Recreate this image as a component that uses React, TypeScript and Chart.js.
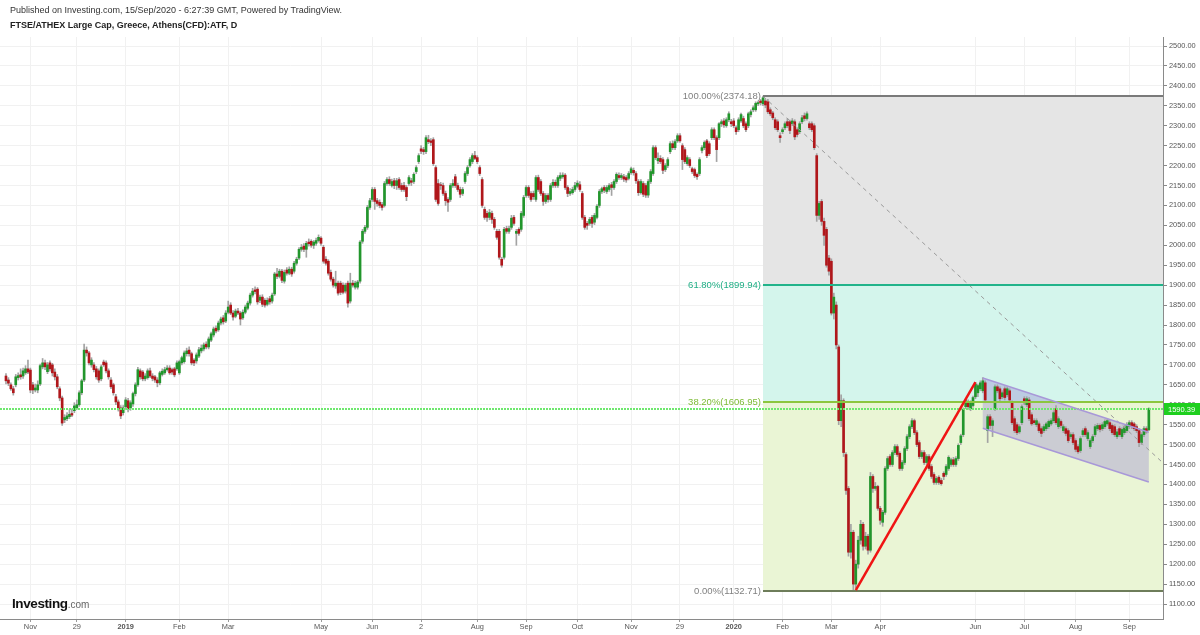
import React, { useEffect, useRef } from 'react';
import { Chart, registerables } from 'chart.js';
Chart.register(...registerables);

type Candle = [number, number, number, number]; // open, high, low, close

// Daily candles (trading-day index order), Oct 2018 – Sep 2020
const candlesQ4_2018: Candle[] = [
  [1672,1678,1652,1660],[1662,1668,1648,1654],[1650,1655,1636,1640],[1640,1646,1624,1630],[1650,1676,1645,1670],
  [1668,1680,1662,1673],[1675,1690,1664,1670],[1672,1692,1666,1685],[1680,1698,1676,1690],[1690,1712,1678,1682],
  [1687,1692,1630,1637],[1650,1656,1628,1637],[1637,1652,1632,1642],[1637,1660,1630,1650],[1652,1702,1648,1698],
  [1695,1716,1690,1705],[1705,1712,1688,1695],[1683,1706,1678,1700],[1705,1710,1684,1690],[1700,1704,1672,1680],
  [1682,1690,1662,1670],[1670,1676,1640,1645],[1640,1645,1610,1617],[1617,1622,1548,1554],[1562,1575,1555,1568],
  [1565,1580,1560,1572],[1570,1588,1565,1576],[1578,1590,1570,1574],[1585,1605,1580,1597],[1592,1612,1588,1600],
  [1600,1635,1596,1630],[1630,1664,1625,1660],[1662,1752,1658,1737],[1737,1745,1722,1730],[1730,1734,1700,1705],
  [1700,1718,1694,1712],[1700,1706,1682,1688],[1690,1696,1664,1670],[1685,1690,1656,1662],[1665,1700,1660,1695],
];
const candlesQ1_2019: Candle[] = [
  [1707,1712,1696,1700],[1705,1710,1680,1685],[1685,1690,1664,1670],[1662,1668,1640,1645],[1650,1654,1624,1630],
  [1620,1626,1600,1607],[1607,1612,1584,1590],[1592,1598,1565,1572],[1580,1598,1574,1592],[1595,1618,1588,1612],
  [1610,1616,1582,1590],[1592,1610,1586,1605],[1602,1632,1596,1628],[1628,1655,1622,1650],[1650,1694,1646,1688],
  [1685,1690,1664,1670],[1682,1686,1660,1665],[1665,1678,1660,1672],[1668,1690,1664,1685],[1685,1692,1668,1672],
  [1672,1678,1660,1666],[1670,1674,1656,1662],[1662,1668,1645,1655],[1655,1684,1650,1680],[1676,1690,1672,1684],
  [1680,1694,1676,1688],[1688,1698,1684,1692],[1692,1698,1676,1680],[1688,1692,1676,1682],[1690,1694,1670,1675],
  [1690,1710,1686,1705],[1680,1712,1676,1708],[1705,1722,1700,1718],[1708,1735,1704,1730],[1728,1742,1722,1735],
  [1737,1745,1722,1728],[1728,1732,1700,1705],[1712,1716,1698,1705],[1710,1730,1704,1725],[1722,1744,1718,1738],
  [1735,1750,1730,1742],[1740,1755,1735,1750],[1752,1758,1740,1745],[1745,1770,1740,1765],[1762,1782,1758,1778],
  [1775,1795,1770,1790],[1792,1798,1780,1785],[1788,1810,1784,1805],[1805,1820,1800,1815],[1818,1824,1802,1808],
  [1810,1836,1806,1830],[1832,1860,1828,1845],[1850,1856,1826,1830],[1830,1836,1812,1820],[1822,1840,1818,1835],
  [1835,1842,1826,1830],[1830,1834,1800,1815],[1818,1838,1814,1832],[1832,1850,1828,1845],[1842,1860,1838,1855],
];
const candlesQ2_2019: Candle[] = [
  [1855,1880,1850,1875],[1875,1892,1870,1885],[1888,1896,1878,1884],[1890,1894,1852,1858],[1862,1875,1856,1870],
  [1870,1876,1846,1852],[1862,1866,1845,1850],[1852,1868,1848,1862],[1866,1872,1852,1858],[1860,1880,1855,1875],
  [1878,1932,1874,1928],[1928,1942,1916,1922],[1922,1940,1918,1935],[1935,1940,1906,1912],[1910,1938,1905,1932],
  [1938,1944,1925,1930],[1930,1946,1926,1940],[1940,1945,1922,1928],[1935,1960,1930,1955],[1955,1970,1950,1965],
  [1968,1994,1964,1990],[1990,2002,1985,1995],[1998,2004,1984,1990],[1990,2010,1970,2005],[2008,2016,1998,2004],
  [2010,2014,1995,2000],[2000,2012,1992,2008],[2005,2018,2000,2012],[2012,2026,2008,2020],[2018,2022,2000,2005],
  [1995,2000,1955,1960],[1965,1972,1950,1955],[1960,1964,1925,1930],[1932,1938,1910,1915],[1915,1920,1895,1900],
  [1898,1935,1892,1905],[1905,1910,1875,1880],[1905,1910,1876,1882],[1900,1906,1878,1882],[1885,1905,1880,1900],
  [1905,1910,1845,1855],[1860,1930,1855,1905],[1905,1912,1895,1900],[1895,1910,1890,1905],[1895,1912,1890,1908],
  [1910,2012,1905,2008],[2010,2040,2005,2035],[2035,2050,2030,2045],[2045,2100,2040,2095],[2095,2118,2090,2112],
  [2115,2145,2110,2140],[2140,2145,2090,2110],[2112,2118,2098,2105],[2108,2114,2094,2100],[2102,2108,2088,2095],
  [2100,2160,2096,2155],[2155,2170,2150,2165],[2165,2172,2150,2155],[2150,2166,2146,2160],[2162,2168,2142,2150],
  [2150,2168,2140,2162],[2165,2170,2140,2145],[2150,2156,2135,2140],
];
const candlesQ3_2019: Candle[] = [
  [2150,2158,2135,2140],[2145,2150,2112,2122],[2155,2175,2150,2170],[2162,2168,2150,2158],[2160,2182,2155,2178],
  [2185,2200,2180,2195],[2210,2230,2205,2225],[2242,2250,2230,2236],[2240,2246,2228,2235],[2235,2275,2230,2270],
  [2265,2276,2255,2260],[2262,2268,2250,2258],[2265,2270,2200,2205],[2195,2200,2110,2115],[2155,2165,2100,2105],
  [2152,2158,2140,2150],[2150,2156,2125,2130],[2130,2136,2100,2112],[2115,2120,2085,2108],[2115,2155,2110,2150],
  [2150,2165,2145,2155],[2172,2178,2145,2150],[2150,2156,2135,2140],[2140,2146,2120,2128],[2130,2145,2125,2140],
  [2160,2185,2155,2180],[2180,2200,2175,2195],[2200,2220,2196,2215],[2210,2230,2205,2225],[2225,2236,2215,2218],
  [2220,2225,2205,2210],[2195,2200,2175,2180],[2165,2170,2095,2100],[2090,2096,2065,2070],[2080,2086,2060,2070],
  [2070,2090,2064,2082],[2080,2086,2055,2065],[2065,2070,2040,2045],[2035,2040,2015,2020],[2035,2040,1965,1970],
  [1965,1970,1945,1950],[1970,2045,1965,2040],[2042,2048,2030,2035],[2035,2048,2030,2042],[2045,2075,2040,2068],
  [2070,2075,2050,2055],[2030,2040,2000,2035],[2040,2044,2025,2030],[2040,2085,2035,2080],[2075,2125,2070,2120],
  [2125,2150,2120,2145],[2145,2150,2120,2125],[2130,2135,2110,2115],[2130,2136,2115,2122],[2115,2175,2110,2170],
  [2170,2176,2135,2140],[2160,2165,2125,2130],[2130,2135,2100,2110],[2110,2130,2105,2125],[2125,2130,2108,2115],
  [2115,2155,2110,2150],[2150,2165,2145,2158],[2158,2164,2145,2150],[2150,2175,2145,2170],[2168,2182,2162,2175],
];
const candlesQ4_2019: Candle[] = [
  [2172,2182,2168,2176],[2176,2180,2140,2145],[2145,2150,2122,2130],[2130,2142,2125,2135],[2132,2146,2128,2140],
  [2140,2158,2135,2150],[2148,2162,2144,2156],[2152,2160,2135,2140],[2130,2135,2065,2070],[2070,2075,2040,2045],
  [2055,2060,2040,2050],[2055,2070,2050,2065],[2070,2075,2045,2055],[2058,2080,2052,2075],[2070,2102,2066,2098],
  [2100,2140,2095,2135],[2135,2146,2130,2142],[2145,2150,2132,2138],[2135,2150,2130,2145],[2140,2155,2135,2150],
  [2152,2158,2125,2145],[2145,2165,2140,2160],[2160,2182,2155,2178],[2175,2182,2165,2170],[2170,2180,2165,2175],
  [2172,2178,2160,2166],[2170,2175,2158,2164],[2168,2185,2164,2180],[2182,2196,2178,2192],[2188,2194,2176,2182],
  [2180,2185,2155,2162],[2160,2165,2125,2132],[2132,2165,2128,2160],[2155,2160,2122,2128],[2150,2155,2120,2126],
  [2126,2165,2120,2160],[2160,2190,2155,2185],[2180,2250,2175,2245],[2245,2250,2215,2220],[2212,2232,2205,2218],
  [2218,2225,2205,2210],[2215,2220,2180,2188],[2190,2205,2185,2200],[2200,2220,2195,2215],[2235,2260,2230,2255],
  [2255,2262,2240,2245],[2245,2265,2240,2260],[2262,2280,2258,2275],[2275,2280,2258,2262],[2250,2255,2190,2215],
  [2240,2245,2205,2210],[2205,2225,2200,2220],[2215,2220,2195,2200],[2192,2196,2180,2185],[2190,2194,2170,2175],
  [2178,2182,2165,2172],[2180,2220,2175,2215],[2238,2250,2232,2245],[2245,2262,2240,2258],[2262,2266,2220,2225],
  [2255,2260,2225,2230],[2270,2295,2265,2290],[2290,2295,2265,2270],[2270,2275,2210,2240],[2270,2308,2265,2305],
];
const candlesQ1_2020: Candle[] = [
  [2305,2315,2298,2310],[2312,2318,2296,2302],[2300,2320,2296,2315],[2315,2335,2310,2330],[2310,2316,2298,2305],
  [2312,2318,2295,2300],[2295,2300,2278,2285],[2290,2320,2285,2315],[2312,2332,2308,2328],[2318,2324,2295,2300],
  [2305,2310,2285,2290],[2300,2334,2295,2330],[2328,2340,2322,2335],[2340,2350,2335,2345],[2340,2360,2336,2356],
  [2355,2362,2350,2358],[2362,2366,2352,2358],[2355,2374.18,2350,2370],[2362,2366,2345,2352],[2360,2366,2330,2335],
  [2340,2345,2325,2330],[2332,2336,2315,2320],[2315,2320,2290,2295],[2310,2315,2285,2290],[2275,2282,2258,2270],
  [2285,2295,2280,2290],[2295,2310,2290,2305],[2310,2318,2295,2300],[2310,2314,2280,2288],[2305,2318,2300,2312],
  [2310,2315,2265,2272],[2290,2295,2272,2278],[2285,2310,2280,2305],[2310,2326,2305,2320],[2325,2332,2312,2318],
  [2318,2335,2314,2330],[2305,2310,2290,2295],[2305,2310,2285,2290],[2300,2305,2240,2245],[2225,2230,2060,2075],
  [2075,2110,2065,2105],[2110,2115,2050,2060],[2060,2068,2000,2025],[2040,2045,1945,1950],[1968,1975,1925,1935],
  [1960,1966,1825,1830],[1830,1880,1815,1870],[1850,1858,1740,1750],[1745,1750,1550,1560],[1560,1625,1545,1610],
  [1610,1615,1470,1480],[1475,1480,1375,1385],[1390,1395,1220,1230],[1230,1300,1215,1280],[1280,1285,1132.71,1150],
  [1150,1210,1140,1200],[1200,1270,1190,1260],[1260,1310,1250,1300],[1300,1305,1235,1245],[1245,1280,1238,1270],
  [1270,1275,1225,1235],
];
const candlesQ2_2020: Candle[] = [
  [1235,1430,1230,1420],[1420,1425,1380,1390],[1390,1405,1385,1395],[1395,1398,1335,1340],[1340,1345,1300,1310],
  [1305,1335,1295,1330],[1330,1445,1325,1440],[1440,1470,1435,1465],[1470,1475,1445,1450],[1450,1485,1445,1480],
  [1480,1500,1475,1495],[1495,1500,1470,1475],[1478,1482,1435,1440],[1440,1460,1435,1455],[1455,1495,1450,1490],
  [1490,1525,1485,1520],[1520,1550,1515,1545],[1545,1565,1540,1560],[1560,1564,1525,1530],[1530,1535,1495,1500],
  [1505,1510,1465,1470],[1470,1485,1465,1480],[1480,1485,1450,1455],[1455,1475,1450,1470],[1470,1475,1435,1440],
  [1445,1450,1415,1420],[1425,1430,1400,1405],[1405,1420,1400,1415],[1418,1422,1400,1405],[1410,1415,1398,1402],
  [1428,1432,1412,1420],[1425,1450,1420,1445],[1440,1472,1435,1468],[1450,1466,1445,1462],[1462,1468,1445,1450],
  [1450,1470,1445,1465],[1465,1502,1460,1498],[1505,1526,1500,1522],[1525,1592,1520,1588],[1595,1615,1590,1610],
  [1608,1612,1588,1595],[1590,1610,1585,1605],[1598,1622,1594,1618],[1620,1656,1615,1652],[1630,1652,1620,1648],
  [1640,1660,1635,1655],[1635,1668,1630,1660],[1655,1660,1605,1612],[1535,1575,1505,1570],[1570,1575,1540,1548],
  [1548,1565,1520,1560],[1590,1650,1585,1645],[1645,1650,1630,1635],[1640,1645,1610,1615],[1620,1635,1615,1630],
  [1640,1645,1612,1618],[1625,1645,1620,1640],[1635,1640,1605,1612],[1605,1610,1550,1555],[1565,1570,1530,1535],
  [1550,1555,1525,1530],
];
const candlesQ3_2020: Candle[] = [
  [1532,1550,1528,1545],[1555,1600,1550,1595],[1615,1620,1600,1605],[1600,1620,1595,1615],[1612,1618,1560,1565],
  [1575,1580,1548,1552],[1560,1565,1550,1555],[1550,1565,1545,1560],[1552,1557,1530,1535],[1540,1545,1520,1528],
  [1535,1550,1530,1545],[1540,1556,1535,1552],[1545,1562,1540,1558],[1552,1565,1548,1560],[1560,1585,1555,1580],
  [1590,1598,1550,1555],[1545,1570,1540,1565],[1558,1562,1542,1548],[1535,1550,1530,1545],[1540,1545,1522,1528],
  [1535,1540,1505,1510],[1520,1530,1515,1525],[1525,1530,1500,1505],[1510,1515,1482,1488],[1495,1500,1478,1482],
  [1485,1520,1480,1515],[1525,1540,1520,1535],[1540,1545,1520,1525],[1515,1535,1510,1530],[1495,1515,1490,1510],
  [1510,1525,1505,1520],[1525,1550,1520,1545],[1540,1553,1535,1548],[1548,1552,1532,1538],[1540,1555,1535,1550],
  [1545,1562,1540,1558],[1552,1565,1548,1560],[1555,1560,1535,1540],[1548,1552,1525,1530],[1545,1550,1520,1525],
  [1520,1538,1515,1532],[1540,1545,1520,1525],[1520,1542,1515,1538],[1530,1548,1525,1542],[1535,1555,1530,1550],
  [1545,1560,1540,1555],[1555,1560,1540,1545],[1552,1556,1535,1540],[1545,1550,1530,1535],[1535,1540,1495,1505],
  [1505,1530,1500,1525],[1525,1545,1520,1540],[1540,1545,1528,1532],[1537,1592,1535,1590.39],
];

// X axis tick labels (trading-day index of each label)
const xTickIndex = [10, 29, 49, 71, 91, 129, 150, 170, 193, 213, 234, 256, 276, 298, 318, 338, 358, 397, 417, 438, 460];
const xTickLabels = ['Nov', '29', '2019', 'Feb', 'Mar', 'May', 'Jun', '2', 'Aug', 'Sep', 'Oct', 'Nov', '29', '2020', 'Feb', 'Mar', 'Apr', 'Jun', 'Jul', 'Aug', 'Sep'];
const xBoldLabels = ['2019', '2020'];
const yTickValues = [1100, 1150, 1200, 1250, 1300, 1350, 1400, 1450, 1500, 1550, 1600, 1650, 1700, 1750, 1800, 1850, 1900, 1950, 2000, 2050, 2100, 2150, 2200, 2250, 2300, 2350, 2400, 2450, 2500];

// Drawings
const fibStartIndex = 310;
const fibHigh = 2374.18;
const fibTrendEnd = [531, 1132.71];
const fibLevelValues = [2374.18, 1899.94, 1606.95, 1132.71];
const fibLevelLabels = ['100.00%(2374.18)', '61.80%(1899.94)', '38.20%(1606.95)', '0.00%(1132.71)'];
const redTrend = [[348, 1135], [397, 1657]];
const channelUpper = [[400, 1667], [468, 1531]];
const channelLower = [[400, 1541], [468, 1406]];
const lastPrice = 1590.39;

const GREEN = '#22962c';
const RED = '#b0171b';
const FONT = 'Arial, "Liberation Sans", sans-serif';

export default function App() {
  const ref = useRef<HTMLCanvasElement | null>(null);

  useEffect(() => {
    document.body.style.margin = '0';
    const candles: Candle[] = [
      ...candlesQ4_2018, ...candlesQ1_2019, ...candlesQ2_2019, ...candlesQ3_2019,
      ...candlesQ4_2019, ...candlesQ1_2020, ...candlesQ2_2020, ...candlesQ3_2020,
    ];
    const wickData = candles.map((c, i) => ({ x: i, y: [c[2], c[1]] }));
    const bodyData = candles.map((c, i) => ({ x: i, y: [Math.min(c[0], c[3]), Math.max(c[0], c[3]) + (c[0] === c[3] ? 0.5 : 0)] }));
    const bodyColors = candles.map((c) => (c[3] >= c[0] ? GREEN : RED));

    const overlay = {
      id: 'overlay',
      beforeDatasetsDraw(chart: any) {
        const { ctx, chartArea: a, scales } = chart;
        const x = scales.x, y = scales.y;
        ctx.save();
        ctx.beginPath();
        ctx.rect(a.left, a.top, a.right - a.left, a.bottom - a.top);
        ctx.clip();
        const xs = x.getPixelForValue(fibStartIndex);
        const zoneColors = ['#e5e5e5', '#d4f5ec', '#eaf5d5'];
        for (let k = 0; k < 3; k++) {
          const y1 = y.getPixelForValue(fibLevelValues[k]);
          const y2 = y.getPixelForValue(fibLevelValues[k + 1]);
          ctx.fillStyle = zoneColors[k];
          ctx.fillRect(xs, y1, a.right - xs, y2 - y1);
        }
        // channel fill
        ctx.beginPath();
        ctx.moveTo(x.getPixelForValue(channelUpper[0][0]), y.getPixelForValue(channelUpper[0][1]));
        ctx.lineTo(x.getPixelForValue(channelUpper[1][0]), y.getPixelForValue(channelUpper[1][1]));
        ctx.lineTo(x.getPixelForValue(channelLower[1][0]), y.getPixelForValue(channelLower[1][1]));
        ctx.lineTo(x.getPixelForValue(channelLower[0][0]), y.getPixelForValue(channelLower[0][1]));
        ctx.closePath();
        ctx.fillStyle = 'rgba(140,120,205,0.33)';
        ctx.fill();
        ctx.restore();
      },
      afterDatasetsDraw(chart: any) {
        const { ctx, chartArea: a, scales } = chart;
        const x = scales.x, y = scales.y;
        ctx.save();
        ctx.beginPath();
        ctx.rect(a.left, a.top, a.right - a.left, a.bottom - a.top);
        ctx.clip();
        const xs = x.getPixelForValue(fibStartIndex);
        // dashed fib trend line
        ctx.beginPath();
        ctx.setLineDash([4, 4]);
        ctx.strokeStyle = '#9a9a9a';
        ctx.lineWidth = 1;
        ctx.moveTo(xs, y.getPixelForValue(fibHigh));
        ctx.lineTo(x.getPixelForValue(fibTrendEnd[0]), y.getPixelForValue(fibTrendEnd[1]));
        ctx.stroke();
        ctx.setLineDash([]);
        // last price dotted line
        const lp = Math.round(y.getPixelForValue(lastPrice));
        ctx.fillStyle = '#6fe86f';
        for (let px = Math.floor(a.left); px < a.right; px += 3) {
          ctx.fillRect(px, lp - 1, 2, 2);
        }
        // level lines
        const lineColors = ['#7a7a7a', '#22b38a', '#8cc63f', '#6e7d5a'];
        const textColors = ['#808080', '#1fae85', '#7dbb35', '#808080'];
        ctx.font = '9.5px ' + FONT;
        ctx.textAlign = 'right';
        ctx.textBaseline = 'middle';
        fibLevelValues.forEach((v, k) => {
          const py = Math.round(y.getPixelForValue(v));
          ctx.fillStyle = lineColors[k];
          ctx.fillRect(xs, py - 1, a.right - xs, 2);
          ctx.fillStyle = textColors[k];
          ctx.fillText(fibLevelLabels[k], xs - 2, py);
        });
        // channel borders
        ctx.strokeStyle = '#a898d8';
        ctx.lineWidth = 1.5;
        [channelUpper, channelLower].forEach((ln) => {
          ctx.beginPath();
          ctx.moveTo(x.getPixelForValue(ln[0][0]), y.getPixelForValue(ln[0][1]));
          ctx.lineTo(x.getPixelForValue(ln[1][0]), y.getPixelForValue(ln[1][1]));
          ctx.stroke();
        });
        // red trend line
        ctx.beginPath();
        ctx.strokeStyle = '#f01414';
        ctx.lineWidth = 2.5;
        ctx.moveTo(x.getPixelForValue(redTrend[0][0]), y.getPixelForValue(redTrend[0][1]));
        ctx.lineTo(x.getPixelForValue(redTrend[1][0]), y.getPixelForValue(redTrend[1][1]));
        ctx.stroke();
        ctx.restore();
      },
      afterDraw(chart: any) {
        const { ctx, chartArea: a, scales } = chart;
        const y = scales.y;
        const lp = Math.round(y.getPixelForValue(lastPrice));
        ctx.save();
        ctx.fillStyle = '#1ecf1e';
        ctx.fillRect(a.right + 1, lp - 6, 1200 - a.right - 1, 12);
        ctx.fillStyle = '#ffffff';
        ctx.font = '7.5px ' + FONT;
        ctx.textAlign = 'left';
        ctx.textBaseline = 'middle';
        ctx.fillText(lastPrice.toFixed(2), a.right + 5, lp + 0.5);
        ctx.restore();
      },
    };

    const chart = new Chart(ref.current as HTMLCanvasElement, {
      type: 'bar',
      data: {
        datasets: [
          {
            data: bodyData as any,
            backgroundColor: bodyColors,
            barThickness: 2,
            grouped: false,
            order: 0,
            borderWidth: 0,
          } as any,
          {
            data: wickData as any,
            backgroundColor: '#a3a3a3',
            barThickness: 1,
            grouped: false,
            order: 1,
            borderWidth: 0,
          } as any,
        ],
      },
      options: {
        responsive: false,
        animation: false,
        events: [],
        layout: { padding: { top: 37, left: 0, right: 0, bottom: 0 } },
        plugins: { legend: { display: false }, tooltip: { enabled: false }, title: { display: false } },
        scales: {
          x: {
            type: 'linear',
            min: -2.45,
            max: 473.8,
            offset: false,
            grid: { offset: false, color: '#f1f1f1', tickLength: 3, tickColor: '#9a9a9a' },
            border: { color: '#8a8a8a' },
            afterBuildTicks: (s: any) => { s.ticks = xTickIndex.map((v) => ({ value: v })); },
            afterFit: (s: any) => { s.height = 16; },
            ticks: {
              autoSkip: false,
              maxRotation: 0,
              padding: 1,
              color: '#555555',
              font: (c: any) => {
                const i = xTickIndex.indexOf(c.tick ? c.tick.value : -1);
                const bold = i >= 0 && xBoldLabels.includes(xTickLabels[i]);
                return { family: FONT, size: 7.4, weight: bold ? 'bold' : 'normal' } as any;
              },
              callback: (v: any) => {
                const i = xTickIndex.indexOf(Number(v));
                return i >= 0 ? xTickLabels[i] : '';
              },
            },
          } as any,
          y: {
            type: 'linear',
            position: 'right',
            min: 1062.4,
            max: 2522.6,
            grid: { color: '#f1f1f1', tickLength: 4, tickColor: '#8a8a8a' },
            border: { color: '#8a8a8a' },
            afterBuildTicks: (s: any) => { s.ticks = yTickValues.map((v) => ({ value: v })); },
            afterFit: (s: any) => { s.width = 37; },
            ticks: {
              padding: 2,
              color: '#555555',
              font: { family: FONT, size: 7.4 },
              callback: (v: any) => Number(v).toFixed(2),
            },
          } as any,
        },
      },
      plugins: [overlay],
    });
    return () => chart.destroy();
  }, []);

  return (
    <div style={{ position: 'relative', width: 1200, height: 635, background: '#ffffff', fontFamily: FONT, overflow: 'hidden' }}>
      <canvas ref={ref} width={1200} height={635} style={{ position: 'absolute', left: 0, top: 0 }} />
      <div style={{ position: 'absolute', left: 10, top: 5, fontSize: 9, color: '#333', whiteSpace: 'nowrap' }}>
        Published on Investing.com, 15/Sep/2020 - 6:27:39 GMT, Powered by TradingView.
      </div>
      <div style={{ position: 'absolute', left: 10, top: 20, fontSize: 9, fontWeight: 'bold', color: '#222', whiteSpace: 'nowrap' }}>
        FTSE/ATHEX Large Cap, Greece, Athens(CFD):ATF, D
      </div>
      <div style={{ position: 'absolute', left: 12, top: 595, whiteSpace: 'nowrap', lineHeight: '16px' }}>
        <span style={{ fontSize: 13.5, fontWeight: 'bold', color: '#111', letterSpacing: -0.4 }}>Investing</span>
        <span style={{ fontSize: 10, color: '#666' }}>.com</span>
      </div>
    </div>
  );
}
